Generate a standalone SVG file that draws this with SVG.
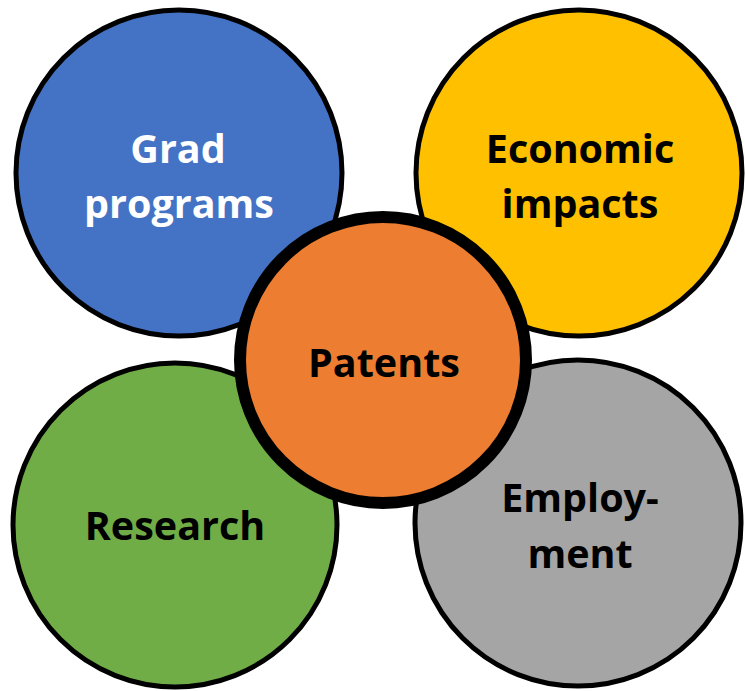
<svg xmlns="http://www.w3.org/2000/svg" width="745" height="691" viewBox="0 0 745 691">
<style>
.c{stroke:#000;stroke-width:5}
.t{font-family:"Open Sans","Liberation Sans",sans-serif;font-weight:bold;font-size:39.5px;text-anchor:middle}
.w{fill:#fff}
.k{fill:#000}
</style>
<rect width="745" height="691" fill="#fff"/>
<g id="connectors"></g>
<g id="grad">
<circle class="c" cx="179" cy="173" r="163" fill="#4472C4"/>
<text class="t w" x="178" y="163">Grad</text>
<text class="t w" x="179" y="218">programs</text>
</g>
<g id="economic">
<circle class="c" cx="579" cy="173" r="163" fill="#FFC000"/>
<text class="t k" x="580" y="163">Economic</text>
<text class="t k" x="580" y="218">impacts</text>
</g>
<g id="research">
<circle class="c" cx="175" cy="525" r="162" fill="#70AD47"/>
<text class="t k" x="175" y="540">Research</text>
</g>
<g id="employment">
<circle class="c" cx="578" cy="523" r="163" fill="#A5A5A5"/>
<text class="t k" x="580" y="512">Employ-</text>
<text class="t k" x="580" y="568">ment</text>
</g>
<g id="patents">
<circle cx="383" cy="360" r="143" fill="#ED7D31" stroke="#000" stroke-width="12"/>
<text class="t k" x="384" y="377">Patents</text>
</g>
</svg>
